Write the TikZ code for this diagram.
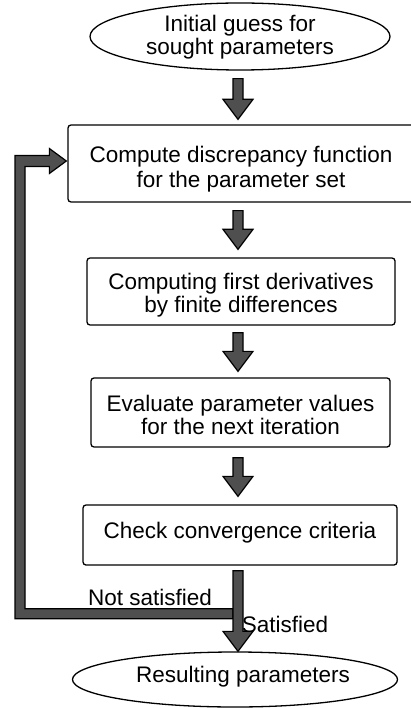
\documentclass[tikz,border=0pt]{standalone}
\usepackage{fontspec}
\setmainfont{Liberation Sans}
\usetikzlibrary{shapes.geometric,calc}
\definecolor{fatgray}{HTML}{4F4F4F}
\begin{document}
\begin{tikzpicture}[x=1pt,y=-1pt,
  txt/.style={font=\fontsize{22.5}{23.5}\selectfont, text=black},
  boxnode/.style={txt, draw=black, rounded corners=3pt, line width=1.3pt, inner sep=0pt, align=center},
  ovalnode/.style={txt, draw=black, ellipse, line width=1.3pt, inner sep=0pt, align=center},
  fat/.style={draw=black, fill=fatgray, line width=1.2pt, line join=miter},
  lbl/.style={txt, inner sep=0pt}]
\useasboundingbox (0,0) rectangle (411,708);

% nodes
\node[ovalnode, text height=41.5pt, text depth=4.7pt, minimum width=300pt, minimum height=67pt] (top) at (240,36.5)
  {Initial guess for\\sought parameters};
\node[boxnode, font=\fontsize{22.5}{25}\selectfont, text height=53pt, text depth=4.7pt, minimum width=346pt, minimum height=77pt] (b1) at (241,163.5)
  {Compute discrepancy function\\for the parameter set};
\node[boxnode, text height=47.5pt, text depth=4.7pt, minimum width=308pt, minimum height=67pt] (b2) at (241,291.5)
  {Computing first derivatives\\by finite differences};
\node[boxnode, text height=49.5pt, text depth=4.7pt, minimum width=299pt, minimum height=69pt] (b3) at (240.5,412.5)
  {Evaluate parameter values\\for the next iteration};
\node[boxnode, text depth=10pt, minimum width=314pt, minimum height=60pt] (b4) at (240,535)
  {Check convergence criteria};
\node[ovalnode, text depth=9.4pt, minimum width=314pt, minimum height=55pt] (res) at (235,679.5)
  {\hspace*{16pt}Resulting parameters};

\node[lbl] (ns) at (150,597) {Not satisfied};
\node[lbl] (sat) at (285,624) {Satisfied};

\coordinate (axis) at (238,0);
\coordinate (cL) at (20,0);

% fat down arrow: #1 source node, #2 target node, #3 start gap, #4 end gap
\newcommand\fatdown[4]{%
  \draw[fat] ($(#1.south -| axis)+(-5,#3)$) -- ($(#2.north -| axis)+(-5,-#4-20)$)
    -- ($(#2.north -| axis)+(-15,-#4-20)$) -- ($(#2.north -| axis)+(0,-#4)$)
    -- ($(#2.north -| axis)+(15,-#4-20)$) -- ($(#2.north -| axis)+(5,-#4-20)$)
    -- ($(#1.south -| axis)+(5,#3)$) -- cycle;}

\fatdown{top}{b1}{8}{5}
\fatdown{b1}{b2}{8}{8}
\fatdown{b2}{b3}{7}{6}
\fatdown{b3}{b4}{10}{8}

% feedback loop
\coordinate (tipL) at ($(b1.west)+(-1,-2.5)$);
\coordinate (jn) at ($(b4.south -| axis)+(0,48)$);
\draw[fat] ($(jn)+(-5,-5)$) -- ($(cL |- jn)+(5,-5)$) -- ($(cL |- tipL)+(5,5.5)$)
  -- ($(tipL)+(-17,5.5)$) -- ($(tipL)+(-17,12.5)$) -- (tipL)
  -- ($(tipL)+(-17,-12.5)$) -- ($(tipL)+(-17,-5.5)$)
  -- ($(cL |- tipL)+(-5,-5.5)$) -- ($(cL |- jn)+(-5,5)$) -- ($(jn)+(-5,5)$) -- cycle;

\fatdown{b4}{res}{5}{0}
\end{tikzpicture}
\end{document}
